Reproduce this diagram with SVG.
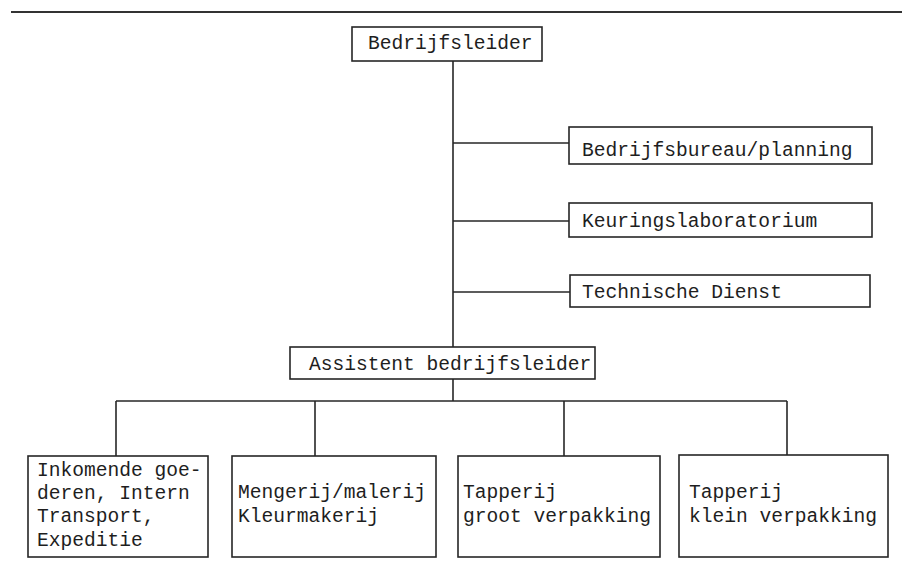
<svg xmlns="http://www.w3.org/2000/svg" width="902" height="567" viewBox="0 0 902 567">
  <style>
    .box { fill: #ffffff; stroke: #262626; stroke-width: 1.6; }
    .lbl { font-family: "Liberation Mono", "Courier New", monospace; font-size: 19.6px; fill: #1e1e1e; }
    .wire { fill: none; stroke: #262626; stroke-width: 1.6; }
  </style>
  <rect x="0" y="0" width="902" height="567" fill="#ffffff"/>
  <!-- header rule -->
  <line x1="11" y1="12" x2="902" y2="12" stroke="#333333" stroke-width="2"/>

  <g id="connectors" class="wire">
    <line x1="453" y1="61" x2="453" y2="347"/>
    <line x1="453" y1="143" x2="569" y2="143"/>
    <line x1="453" y1="221" x2="569" y2="221"/>
    <line x1="453" y1="292" x2="570" y2="292"/>
    <line x1="453" y1="379" x2="453" y2="401"/>
    <line x1="116" y1="401" x2="787" y2="401"/>
    <line x1="116" y1="401" x2="116" y2="456"/>
    <line x1="315" y1="401" x2="315" y2="456"/>
    <line x1="564" y1="401" x2="564" y2="456"/>
    <line x1="787" y1="401" x2="787" y2="455"/>
  </g>

  <g id="bedrijfsleider">
    <rect class="box" x="352" y="27" width="190" height="34"/>
    <text class="lbl" x="368" y="49">Bedrijfsleider</text>
  </g>

  <g id="bedrijfsbureau">
    <rect class="box" x="569" y="127" width="303" height="37"/>
    <text class="lbl" x="582" y="156">Bedrijfsbureau/planning</text>
  </g>

  <g id="keuringslaboratorium">
    <rect class="box" x="569" y="203" width="303" height="34"/>
    <text class="lbl" x="582" y="227">Keuringslaboratorium</text>
  </g>

  <g id="technische-dienst">
    <rect class="box" x="570" y="275" width="300" height="32"/>
    <text class="lbl" x="582" y="298">Technische Dienst</text>
  </g>

  <g id="assistent">
    <rect class="box" x="290" y="347" width="305" height="32"/>
    <text class="lbl" x="309" y="370">Assistent bedrijfsleider</text>
  </g>

  <g id="inkomende-goederen">
    <rect class="box" x="28" y="456" width="180" height="101"/>
    <text class="lbl" x="37" y="476">Inkomende goe-</text>
    <text class="lbl" x="37" y="499">deren, Intern</text>
    <text class="lbl" x="37" y="522">Transport,</text>
    <text class="lbl" x="37" y="546">Expeditie</text>
  </g>

  <g id="mengerij">
    <rect class="box" x="232" y="456" width="204" height="101"/>
    <text class="lbl" x="238" y="498">Mengerij/malerij</text>
    <text class="lbl" x="238" y="522">Kleurmakerij</text>
  </g>

  <g id="tapperij-groot">
    <rect class="box" x="458" y="456" width="202" height="101"/>
    <text class="lbl" x="463" y="498">Tapperij</text>
    <text class="lbl" x="463" y="522">groot verpakking</text>
  </g>

  <g id="tapperij-klein">
    <rect class="box" x="679" y="455" width="209" height="102"/>
    <text class="lbl" x="689" y="498">Tapperij</text>
    <text class="lbl" x="689" y="522">klein verpakking</text>
  </g>
</svg>
